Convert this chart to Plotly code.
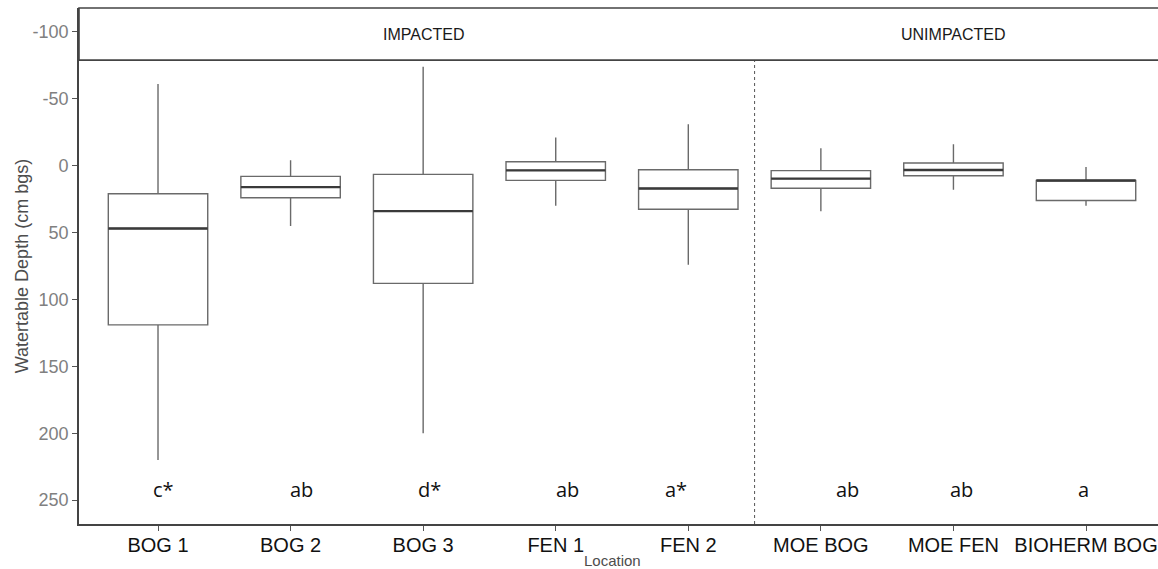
import plotly.graph_objects as go

# ---- data ----
locations = ["BOG 1", "BOG 2", "BOG 3", "FEN 1", "FEN 2", "MOE BOG", "MOE FEN", "BIOHERM BOG"]
groups = ["IMPACTED"] * 5 + ["UNIMPACTED"] * 3
whisker_low = [-61, -4, -74, -21, -31, -13, -16, 1]     # shallowest (top whisker end)
q1 = [21, 8, 6.5, -3, 3, 3.7, -2, 11]
median = [47, 16, 34, 3.5, 17, 9.7, 3.2, 11]
q3 = [119, 24, 88, 11, 32.6, 16.9, 7.5, 26]
whisker_high = [220, 45, 200, 30, 74, 34, 18, 30]      # deepest (bottom whisker end)
letters = ["c*", "ab", "d*", "ab", "a*", "ab", "ab", "a"]
y_ticks = [-100, -50, 0, 50, 100, 150, 200, 250]

# ---- layout helpers (not data) ----
letter_nudge = [0.04, 0.08, 0.05, 0.09, -0.09, 0.2, 0.06, -0.02]
letter_depth = 242
box_w = 0.75
y_range = [267.9, -117.9]
x_range = [-0.596, 7.543]
strip_bottom = 0.899

xs = list(range(len(locations)))

fig = go.Figure()
fig.add_trace(go.Box(
    x=xs, q1=q1, median=median, q3=q3,
    lowerfence=whisker_low, upperfence=whisker_high,
    width=box_w, whiskerwidth=0,
    fillcolor="white",
    line=dict(color="#6a6a6a", width=1.4),
    boxpoints=False, hoverinfo="skip", showlegend=False,
))

# thicker median segments
mx, my = [], []
for i, m in zip(xs, median):
    mx += [i - box_w / 2, i + box_w / 2, None]
    my += [m, m, None]
fig.add_trace(go.Scatter(x=mx, y=my, mode="lines",
                         line=dict(color="#3a3a3a", width=2.4),
                         hoverinfo="skip", showlegend=False))

# letters
for i, (lt, nd) in enumerate(zip(letters, letter_nudge)):
    fig.add_annotation(x=i + nd, y=letter_depth, text=lt, showarrow=False,
                       font=dict(family="Open Sans", size=20, color="#111111"),
                       xanchor="center", yanchor="middle")

# group separator (dotted)
n_imp = groups.count("IMPACTED")
sep = n_imp - 0.5
fig.add_shape(type="line", xref="x", yref="paper", x0=sep, x1=sep, y0=0, y1=strip_bottom,
              line=dict(color="#555555", width=1, dash="dot"))

# strip header
fig.add_shape(type="rect", xref="paper", yref="paper", x0=0, x1=1.05, y0=strip_bottom, y1=1,
              line=dict(color="#444444", width=1.6), fillcolor="white", layer="above")
imp_center = (n_imp - 1) / 2
unimp_center = n_imp + (len(locations) - n_imp - 1) / 2
strip_y = (strip_bottom + 1) / 2
for cx, lab in [(imp_center, "IMPACTED"), (unimp_center, "UNIMPACTED")]:
    fig.add_annotation(x=cx, xref="x", y=strip_y, yref="paper", text=lab, showarrow=False,
                       font=dict(family="Liberation Sans", size=16, color="#1a1a1a"),
                       xanchor="center", yanchor="middle")

# axis titles as annotations
fig.add_annotation(x=-57 / 1079, xref="paper", y=0.5 * strip_bottom + 0.05, yref="paper",
                   text="Watertable Depth (cm bgs)", textangle=-90, showarrow=False,
                   font=dict(family="Liberation Sans", size=18, color="#4d4d4d"),
                   xanchor="center", yanchor="middle")
fig.add_annotation(x=0.494, xref="paper", y=-0.0717, yref="paper",
                   text="Location", showarrow=False,
                   font=dict(family="Liberation Sans", size=15, color="#4d4d4d"),
                   xanchor="center", yanchor="middle")

fig.update_layout(
    width=1158, height=569,
    margin=dict(l=79, r=0, t=8, b=45),
    paper_bgcolor="white", plot_bgcolor="white",
    xaxis=dict(range=x_range, tickmode="array", tickvals=xs, ticktext=locations,
               showgrid=False, zeroline=False, showline=True, linecolor="#444444", linewidth=1.6,
               ticks="outside", ticklen=5, tickcolor="#555555", ticklabelstandoff=-3,
               tickfont=dict(family="Liberation Sans", size=20, color="#111111")),
    yaxis=dict(range=y_range, tickmode="array", tickvals=y_ticks,
               ticktext=[str(v) for v in y_ticks],
               showgrid=False, zeroline=False, showline=True, linecolor="#444444", linewidth=1.6,
               ticks="outside", ticklen=5, tickcolor="#555555",
               tickfont=dict(family="Liberation Sans", size=18, color="#808080")),
)

fig.write_html("out.html", config={"displayModeBar": False},
               post_script="document.body.style.margin='0';document.body.style.overflow='hidden';")
